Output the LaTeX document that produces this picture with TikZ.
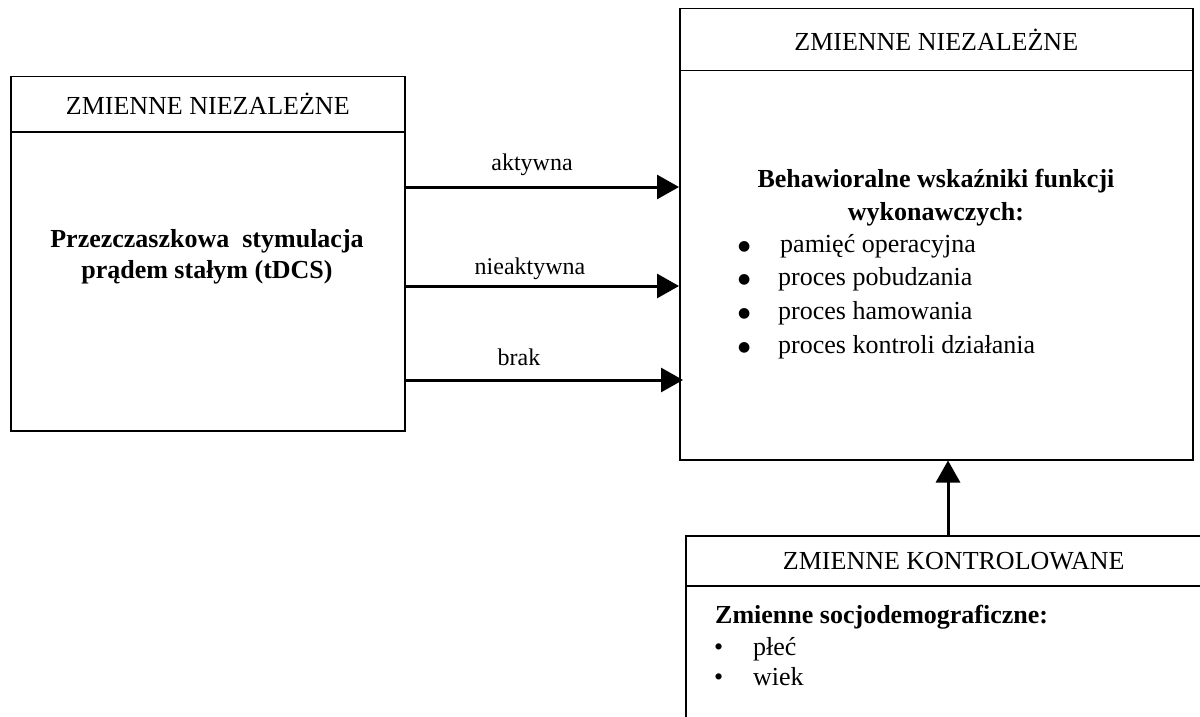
\documentclass[tikz,border=0pt]{standalone}
\usepackage{fontspec}
\setmainfont{Liberation Serif}
\newfontfamily\bulfont{DejaVu Sans}
\usetikzlibrary{arrows.meta}
\newcommand{\bigbul}{\raisebox{2pt}{\bulfont\fontsize{14}{16}\selectfont ●}}
\begin{document}
\begin{tikzpicture}[x=1pt,y=-1pt,
  box/.style={draw=black, line width=1.5pt, rectangle, inner sep=0pt, anchor=north west},
  hdr/.style={box, font=\fontsize{26}{31}\selectfont},
  arr/.style={line width=3pt, -{Triangle[length=22pt,width=24pt]}},
  lbl/.style={font=\fontsize{24}{28}\selectfont, inner sep=0pt, anchor=base},
  txt/.style={inner sep=0pt}
]
\useasboundingbox (0,0) rectangle (1200,717);
\clip (0,0) rectangle (1200,717);
\fill[white] (0,0) rectangle (1200,717);

% left box
\node[hdr, minimum width=394pt, minimum height=55pt] (lh) at (10,76) {ZMIENNE NIEZALEŻNE};
\node[box, minimum width=394pt, minimum height=299pt] (lb) at (10,131) {};
\node[txt, anchor=base] (ltext) at (207,247) {\fontsize{26}{31}\selectfont\bfseries
  \begin{tabular}[t]{@{}c@{}}Przezczaszkowa\ \ stymulacja\\prądem stałym (tDCS)\end{tabular}};

% right box
\node[hdr, minimum width=513pt, minimum height=62pt] (rh) at (679,8) {ZMIENNE NIEZALEŻNE};
\node[box, minimum width=513pt, minimum height=389pt] (rb) at (679,70) {};
\node[txt, anchor=base] (rtitle) at (936,187) {\fontsize{26}{33}\selectfont\bfseries
  \begin{tabular}[t]{@{}c@{}}Behawioralne wskaźniki funkcji\\wykonawczych:\end{tabular}};
\node[txt, anchor=base west] (rlist) at (738,252) {\fontsize{26}{33.7}\selectfont
  \begin{tabular}[t]{@{}l@{}}
  \makebox[42pt][l]{\bigbul}pamięć operacyjna\\
  \makebox[40pt][l]{\bigbul}proces pobudzania\\
  \makebox[40pt][l]{\bigbul}proces hamowania\\
  \makebox[40pt][l]{\bigbul}proces kontroli działania
  \end{tabular}};

% bottom box
\node[hdr, minimum width=536pt, minimum height=50pt] (bh) at (685,535) {ZMIENNE KONTROLOWANE};
\node[box, minimum width=536pt, minimum height=250pt] (bb) at (685,585) {};
\node[txt, anchor=base west] (btitle) at (715,623) {\fontsize{26}{31}\selectfont\bfseries Zmienne socjodemograficzne:};
\node[txt, anchor=base west] (blist) at (714,655) {\fontsize{26}{30}\selectfont
  \begin{tabular}[t]{@{}l@{}}
  \makebox[39pt][l]{•}płeć\\
  \makebox[39pt][l]{•}wiek
  \end{tabular}};

% arrows
\coordinate (y1) at (0,187);
\coordinate (y2) at (0,286);
\coordinate (y3) at (0,380);
\draw[arr] (lb.east |- y1) -- (rb.west |- y1);
\draw[arr] (lb.east |- y2) -- (rb.west |- y2);
\draw[arr, shorten >=-4pt] (lb.east |- y3) -- (rb.west |- y3);
\node[lbl] (l1) at (532,170) {aktywna};
\node[lbl] (l2) at (530,274) {nieaktywna};
\node[lbl] (l3) at (519,365) {brak};

\coordinate (vx) at (948,0);
\draw[arr] (bh.north -| vx) -- (rb.south -| vx);
\end{tikzpicture}
\end{document}
